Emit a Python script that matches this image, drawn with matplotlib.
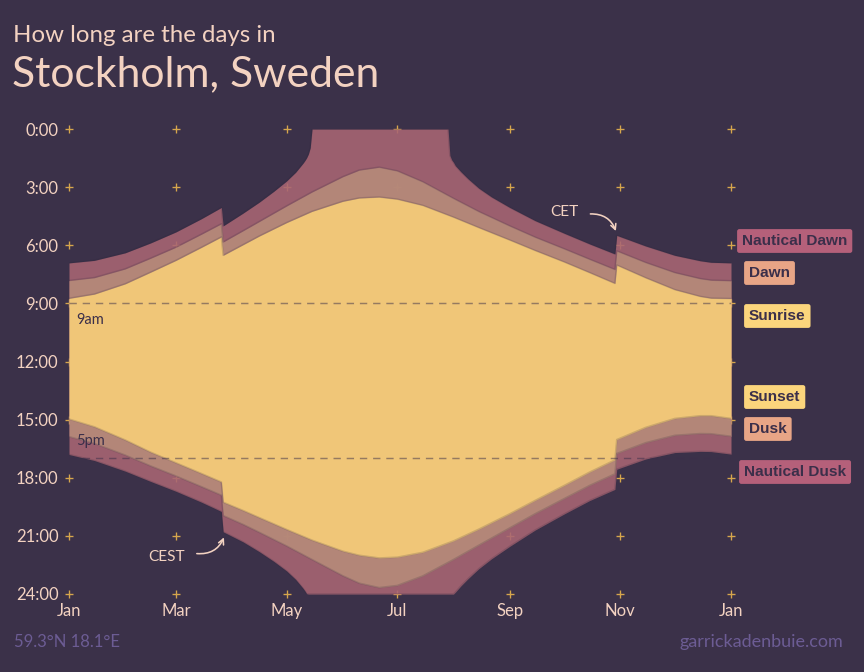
import matplotlib
matplotlib.use('Agg')
import matplotlib.pyplot as plt
import pandas as pd

plt.rcParams['font.family'] = ['Lato', 'DejaVu Sans']

# --- data (local clock time in hours, Stockholm 2022) ---
main_dates = ['2022-01-01', '2022-01-15', '2022-02-01', '2022-02-15', '2022-03-01',
              '2022-03-15', '2022-03-26', '2022-03-27', '2022-04-07', '2022-04-16',
              '2022-05-01', '2022-05-15', '2022-06-01', '2022-06-10', '2022-06-21',
              '2022-07-01', '2022-07-15', '2022-08-01', '2022-08-15', '2022-09-01',
              '2022-09-15', '2022-10-01', '2022-10-15', '2022-10-29', '2022-10-30',
              '2022-11-15', '2022-12-01', '2022-12-15', '2022-12-21', '2023-01-01']
sunrise = [8.74, 8.52, 7.99, 7.39, 6.78, 6.11, 5.57, 6.52, 5.97, 5.52,
           4.83, 4.25, 3.73, 3.56, 3.51, 3.62, 3.94, 4.55, 5.09, 5.73,
           6.27, 6.86, 7.41, 7.97, 7.02, 7.68, 8.29, 8.64, 8.73, 8.75]
sunset = [14.97, 15.37, 16.05, 16.68, 17.23, 17.78, 18.22, 19.26, 19.69, 20.06,
          20.67, 21.22, 21.79, 22.00, 22.14, 22.10, 21.85, 21.26, 20.65, 19.86,
          19.17, 18.40, 17.71, 17.08, 16.03, 15.40, 14.94, 14.80, 14.80, 14.94]
dawn = [7.82, 7.67, 7.22, 6.67, 6.10, 5.43, 4.89, 5.83, 5.25, 4.77,
        3.97, 3.25, 2.46, 2.12, 1.97, 2.16, 2.72, 3.58, 4.26, 5.00,
        5.58, 6.18, 6.72, 7.25, 6.29, 6.89, 7.41, 7.72, 7.80, 7.83]
dusk = [15.88, 16.23, 16.83, 17.39, 17.91, 18.46, 18.90, 19.95, 20.41, 20.82,
        21.52, 22.22, 23.06, 23.44, 23.67, 23.56, 23.07, 22.22, 21.48, 20.59,
        19.86, 19.08, 18.40, 17.80, 16.75, 16.19, 15.81, 15.72, 15.73, 15.86]

naut_dates = ['2022-01-01', '2022-01-15', '2022-02-01', '2022-02-15', '2022-03-01',
              '2022-03-15', '2022-03-26', '2022-03-27', '2022-04-07', '2022-04-16',
              '2022-04-24', '2022-05-01', '2022-05-06', '2022-05-10', '2022-05-11',
              '2022-05-12', '2022-05-13', '2022-05-14', '2022-05-15', '2022-07-28',
              '2022-07-29', '2022-07-30', '2022-07-31', '2022-08-01', '2022-08-02',
              '2022-08-05', '2022-08-09', '2022-08-15', '2022-08-22', '2022-09-01',
              '2022-09-15', '2022-10-01', '2022-10-15', '2022-10-29', '2022-10-30',
              '2022-11-15', '2022-12-01', '2022-12-15', '2022-12-21', '2023-01-01']
nautical_dawn = [6.91, 6.78, 6.39, 5.88, 5.31, 4.63, 4.05, 5.00, 4.34, 3.77,
                 3.21, 2.68, 2.23, 1.77, 1.64, 1.49, 1.29, 0.97, 0.00, 0.00,
                 0.00, 1.36, 1.59, 1.72, 1.89, 2.20, 2.57, 3.06, 3.51, 4.05,
                 4.73, 5.38, 5.93, 6.45, 5.49, 6.04, 6.52, 6.80, 6.88, 6.91]
nautical_dusk = [16.80, 17.11, 17.66, 18.19, 18.70, 19.26, 19.74, 20.79, 21.31, 21.82,
                 22.32, 22.81, 23.25, 23.70, 23.83, 23.98, 24.00, 24.00, 24.00, 24.00,
                 24.00, 24.00, 24.00, 24.00, 23.91, 23.59, 23.21, 22.69, 22.18, 21.54,
                 20.70, 19.87, 19.18, 18.60, 17.56, 17.03, 16.70, 16.64, 16.65, 16.78]

month_ticks = ['2022-01-01', '2022-03-01', '2022-05-01', '2022-07-01',
               '2022-09-01', '2022-11-01', '2023-01-01']
month_labels = ['Jan', 'Mar', 'May', 'Jul', 'Sep', 'Nov', 'Jan']
hour_ticks = [0, 3, 6, 9, 12, 15, 18, 21, 24]

legend_labels = ['Nautical Dawn', 'Dawn', 'Sunrise', 'Sunset', 'Dusk', 'Nautical Dusk']

# --- colours ---
BG = '#3b3149'
PEACH = '#f3d2c1'
GOLD = '#d6a64c'
NAUT = '#a96674'
CIVIL = '#b78c7a'
DAY = '#f0c678'
DARK = '#3b2f4a'
FOOT = '#6c5c94'

md = pd.to_datetime(main_dates)
nd = pd.to_datetime(naut_dates)
mt = pd.to_datetime(month_ticks)

fig = plt.figure(figsize=(9, 7), dpi=96, facecolor=BG)
ax = fig.add_axes([69 / 864, 1 - 594 / 672, (731 - 69) / 864, (594 - 129) / 672])
ax.set_facecolor(BG)

# grid of plus marks under the bands
for t in mt:
    ax.scatter([t] * len(hour_ticks), hour_ticks, marker='+', s=45, lw=1,
               color=GOLD, zorder=1, clip_on=False)

ax.fill_between(nd, nautical_dawn, nautical_dusk, color=NAUT, alpha=0.88, lw=0, zorder=2)
ax.fill_between(md, dawn, dusk, color=CIVIL, alpha=0.88, lw=0, zorder=3)
ax.fill_between(md, sunrise, sunset, color=DAY, lw=0, zorder=4)

# soft edges
for x, y in [(nd, nautical_dawn), (nd, nautical_dusk), (md, dawn), (md, dusk),
             (md, sunrise), (md, sunset)]:
    ax.plot(x, y, color='#2a2238', alpha=0.18, lw=1.2, zorder=5)

# 9am / 5pm guides
for h in [9, 17]:
    ax.axhline(h, color=DARK, alpha=0.5, lw=1.1, ls=(0, (5, 4)), zorder=6)
ax.text(pd.Timestamp('2022-01-05'), 9.85, '9am', color=DARK, fontsize=11,
        va='center', ha='left', zorder=7)
ax.text(pd.Timestamp('2022-01-05'), 16.1, '5pm', color=DARK, fontsize=11,
        va='center', ha='left', zorder=7)

# time change notes
ax.text(pd.Timestamp('2022-10-01'), 4.28, 'CET', color=PEACH, fontsize=11.5,
        ha='center', va='center', zorder=7)
ax.annotate('', xy=(pd.Timestamp('2022-10-30'), 5.4), xytext=(pd.Timestamp('2022-10-14'), 4.39),
            arrowprops=dict(arrowstyle='->', color=PEACH, lw=1.2,
                            connectionstyle='arc3,rad=-0.4'), zorder=7)
ax.text(pd.Timestamp('2022-02-24'), 22.09, 'CEST', color=PEACH, fontsize=11.5,
        ha='center', va='center', zorder=7)
ax.annotate('', xy=(pd.Timestamp('2022-03-28'), 20.95), xytext=(pd.Timestamp('2022-03-11'), 21.9),
            arrowprops=dict(arrowstyle='->', color=PEACH, lw=1.2,
                            connectionstyle='arc3,rad=0.4'), zorder=7)

ax.set_xlim(pd.Timestamp('2022-01-01'), pd.Timestamp('2023-01-01'))
ax.set_ylim(24, 0)
ax.set_yticks(hour_ticks)
ax.set_yticklabels([f'{h}:00' for h in hour_ticks])
ax.set_xticks(mt)
ax.set_xticklabels(month_labels)
ax.tick_params(length=0, colors=PEACH, labelsize=12.5)
ax.tick_params(axis='y', pad=8)
ax.tick_params(axis='x', pad=7)
for s in ax.spines.values():
    s.set_visible(False)

# right-hand labels
label_pos = [(742, 241), (749, 273), (749, 316), (749, 397), (749, 429), (744, 472)]
label_col = ['#b5607a', '#e8a586', '#fbd57c', '#fbd57c', '#e8a586', '#b5607a']
for txt, (px, py), c in zip(legend_labels, label_pos, label_col):
    fig.text(px / 864, 1 - py / 672, txt, ha='left', va='center', fontsize=11.5,
             fontweight='bold', family='Liberation Sans', color=DARK,
             bbox=dict(boxstyle='round,pad=0.32,rounding_size=0.15', fc=c, ec='none'))

# titles and footer
fig.text(13 / 864, 1 - 36 / 672, 'How long are the days in', color=PEACH,
         fontsize=18, va='center', ha='left')
fig.text(12 / 864, 1 - 74 / 672, 'Stockholm, Sweden', color=PEACH,
         fontsize=32, va='center', ha='left')
fig.text(14 / 864, 1 - 642 / 672, '59.3°N 18.1°E', color=FOOT, fontsize=12.5,
         va='center', ha='left')
fig.text(843 / 864, 1 - 642 / 672, 'garrickadenbuie.com', color=FOOT, fontsize=13.5,
         va='center', ha='right')

fig.savefig('out.png', dpi=96, facecolor=BG)
